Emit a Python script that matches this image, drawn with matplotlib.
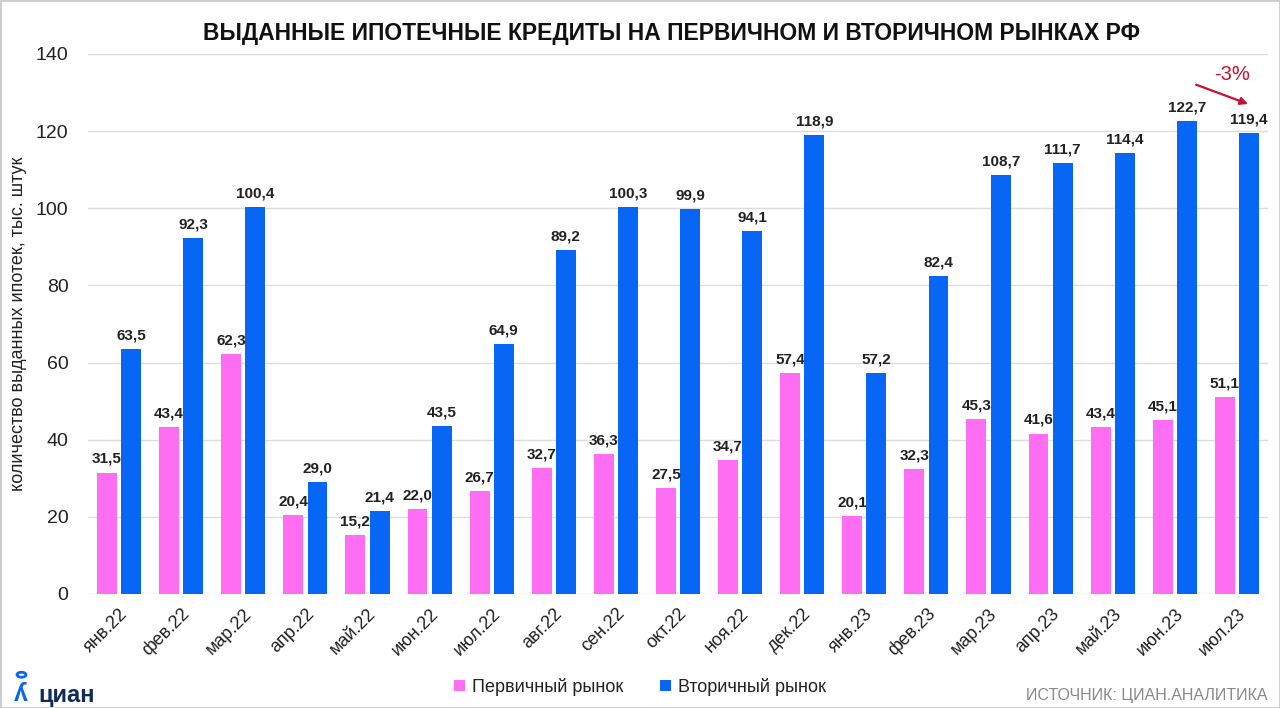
import matplotlib
matplotlib.use("Agg")
import matplotlib.pyplot as plt
import numpy as np
from matplotlib.patches import Rectangle

categories = ["янв.22", "фев.22", "мар.22", "апр.22", "май.22", "июн.22", "июл.22", "авг.22",
              "сен.22", "окт.22", "ноя.22", "дек.22", "янв.23", "фев.23", "мар.23", "апр.23",
              "май.23", "июн.23", "июл.23"]
primary = [31.5, 43.4, 62.3, 20.4, 15.2, 22.0, 26.7, 32.7, 36.3, 27.5, 34.7, 57.4,
           20.1, 32.3, 45.3, 41.6, 43.4, 45.1, 51.1]
secondary = [63.5, 92.3, 100.4, 29.0, 21.4, 43.5, 64.9, 89.2, 100.3, 99.9, 94.1, 118.9,
             57.2, 82.4, 108.7, 111.7, 114.4, 122.7, 119.4]
yticks = [0, 20, 40, 60, 80, 100, 120, 140]

PINK = "#FF6EF2"
BLUE = "#0866F5"

plt.rcParams['font.family'] = ['Liberation Sans', 'DejaVu Sans']

fig = plt.figure(figsize=(12.8, 7.08), dpi=100)
ax = fig.add_axes([88/1280, 114/708, 1180/1280, 540/708])

x = np.arange(len(categories))
w = 0.32
off = 0.195
ax.bar(x - off, primary, width=w, color=PINK, zorder=3, label="Первичный рынок")
ax.bar(x + off, secondary, width=w, color=BLUE, zorder=3, label="Вторичный рынок")

def fmt(v):
    return f"{v:.1f}".replace(".", ",")

for xi, v in zip(x, primary):
    ax.text(xi - off, v + 1.7, fmt(v), ha="center", va="bottom", fontsize=11,
            fontweight="bold", color="#222222", zorder=4)
for xi, v in zip(x, secondary):
    ax.text(xi + off, v + 1.7, fmt(v), ha="center", va="bottom", fontsize=11,
            fontweight="bold", color="#222222", zorder=4)

ax.set_xlim(-0.5, len(categories) - 0.5)
ax.set_ylim(0, 140)
ax.set_yticks(yticks)
ax.set_yticklabels([str(t) for t in yticks], fontsize=14, color="#222222")
ax.grid(axis="y", color="#dddddd", linewidth=1, zorder=0)
ax.set_xticks(x)
ax.set_xticklabels(categories, rotation=45, ha="right", rotation_mode="anchor",
                   fontsize=13, color="#222222")
ax.tick_params(axis="both", length=0)
ax.tick_params(axis="y", pad=14)
ax.tick_params(axis="x", pad=8)
for s in ax.spines.values():
    s.set_visible(False)

ax.set_ylabel("количество выданных ипотек, тыс. штук", fontsize=13, color="#222222",
              labelpad=6)

fig.text(0.525, 0.952, "ВЫДАННЫЕ ИПОТЕЧНЫЕ КРЕДИТЫ НА ПЕРВИЧНОМ И ВТОРИЧНОМ РЫНКАХ РФ",
         ha="center", va="center", fontsize=16.5, fontweight="bold", color="#111111")

# -3% annotation
ax.annotate("", xy=(18.22, 126.8), xytext=(17.3, 132.3),
            arrowprops=dict(arrowstyle="-|>", color="#C8102E", lw=1.6, mutation_scale=11),
            zorder=5)
ax.text(17.92, 134.8, "-3%", ha="center", va="center", fontsize=14.5, color="#C8102E",
        zorder=5)

# legend
leg = fig.legend(loc="center", bbox_to_anchor=(0.5, 0.03), ncol=2, frameon=False,
                 fontsize=13, handlelength=0.6, handleheight=0.6, columnspacing=2.0,
                 handletextpad=0.4)
for t in leg.get_texts():
    t.set_color("#222222")

fig.text(0.99, 0.017, "ИСТОЧНИК: ЦИАН.АНАЛИТИКА", ha="right", va="center", fontsize=11.5,
         color="#8a8a8a")

# logo
fig.text(0.03, 0.018, "циан", ha="left", va="center", fontsize=17, fontweight="bold",
         color="#0f2b57")
fig.text(0.0165, 0.02, "ʎ", ha="center", va="center", fontsize=18, fontweight="bold",
         color=BLUE)
fig.patches.append(plt.Circle((0.0168, 0.047), 0.0035, transform=fig.transFigure,
                              fill=False, edgecolor=BLUE, linewidth=2))

# border
fig.patches.append(Rectangle((0, 0), 1, 1, transform=fig.transFigure, fill=False,
                             edgecolor="#cccccc", linewidth=2))

fig.savefig("out.png", dpi=100)
